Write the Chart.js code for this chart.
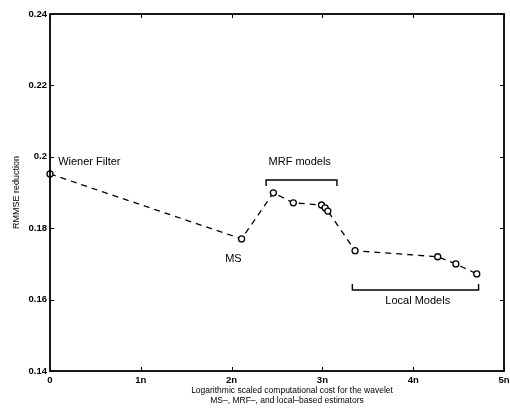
<!DOCTYPE html>
<html>
<head>
<meta charset="utf-8">
<script src="https://cdn.jsdelivr.net/npm/chart.js@4/dist/chart.umd.min.js"></script>
<style>
  body { margin: 0; background: #fff; }
  #wrap { width: 510px; height: 411px; }
</style>
</head>
<body>
<div id="wrap"><canvas id="chart" width="510" height="411"></canvas></div>
<script>
// computational cost (in units of n) and RMMSE reduction for each estimator
const costs = [0, 2.11, 2.46, 2.68, 2.99, 3.03, 3.06, 3.36, 4.27, 4.47, 4.70];
const rmmse = [0.1952, 0.1770, 0.1899, 0.1871, 0.1865, 0.1857, 0.1848, 0.1737, 0.1720, 0.1700, 0.1672];
const xTicks = [0, 1, 2, 3, 4, 5];
const yTicks = [0.14, 0.16, 0.18, 0.2, 0.22, 0.24];

// text annotations placed in data coordinates
const notes = [
    { text: 'Wiener Filter', x: 0.09, y: 0.1985, align: 'left' },
    { text: 'MS', x: 2.02, y: 0.1714, align: 'center' },
    { text: 'MRF models', x: 2.75, y: 0.1985, align: 'center' },
    { text: 'Local Models', x: 4.05, y: 0.1595, align: 'center' }
];
// brackets: from x0 to x1 at height y, ends pointing down (dir 1) or up (dir -1)
const brackets = [
    { x0: 2.38, x1: 3.16, y: 0.1935, dir: 1 },
    { x0: 3.33, x1: 4.72, y: 0.1627, dir: -1 }
];

const font = 'Liberation Sans, Arial, sans-serif';

const decorPlugin = {
    id: 'decor',
    afterDraw(chart) {
        const ctx = chart.ctx;
        const xs = chart.scales.x, ys = chart.scales.y;
        const a = chart.chartArea;
        ctx.save();
        ctx.strokeStyle = '#000';
        ctx.fillStyle = '#000';

        // box
        ctx.lineWidth = 1.8;
        ctx.strokeRect(a.left, a.top, a.right - a.left, a.bottom - a.top);

        // inward ticks
        ctx.lineWidth = 1;
        ctx.beginPath();
        xTicks.forEach(v => {
            const px = Math.round(xs.getPixelForValue(v)) + 0.5;
            ctx.moveTo(px, a.bottom); ctx.lineTo(px, a.bottom - 4);
            ctx.moveTo(px, a.top); ctx.lineTo(px, a.top + 4);
        });
        yTicks.forEach(v => {
            const py = Math.round(ys.getPixelForValue(v)) + 0.5;
            ctx.moveTo(a.left, py); ctx.lineTo(a.left + 4, py);
            ctx.moveTo(a.right, py); ctx.lineTo(a.right - 4, py);
        });
        ctx.stroke();

        // brackets
        ctx.lineWidth = 1.4;
        brackets.forEach(b => {
            const x0 = xs.getPixelForValue(b.x0), x1 = xs.getPixelForValue(b.x1);
            const py = ys.getPixelForValue(b.y);
            ctx.beginPath();
            ctx.moveTo(x0, py + 6 * b.dir);
            ctx.lineTo(x0, py);
            ctx.lineTo(x1, py);
            ctx.lineTo(x1, py + 6 * b.dir);
            ctx.stroke();
        });

        // annotations
        ctx.font = '11px ' + font;
        ctx.textBaseline = 'middle';
        notes.forEach(n => {
            ctx.textAlign = n.align;
            ctx.fillText(n.text, xs.getPixelForValue(n.x), ys.getPixelForValue(n.y));
        });

        // x axis title (two lines)
        ctx.font = '8.5px ' + font;
        ctx.textAlign = 'center';
        ctx.fillText('Logarithmic scaled computational cost for the wavelet', 292, 391);
        ctx.fillText('MS\u2013, MRF\u2013, and local\u2013based estimators', 287, 401);
        ctx.restore();
    }
};

const ctx = document.getElementById('chart').getContext('2d');
const lineChart = new Chart(ctx, {
    type: 'line',
    data: {
        datasets: [{
            data: costs.map((c, i) => ({ x: c, y: rmmse[i] })),
            borderColor: '#000',
            borderWidth: 1.3,
            borderDash: [6, 5],
            pointRadius: 3,
            pointBorderWidth: 1.3,
            pointBorderColor: '#000',
            pointBackgroundColor: '#fff',
            fill: false,
            tension: 0,
            clip: false
        }]
    },
    options: {
        responsive: false,
        animation: false,
        layout: { padding: { top: 14, right: 1, left: 0, bottom: 0 } },
        plugins: {
            legend: { display: false },
            tooltip: { enabled: false }
        },
        scales: {
            x: {
                type: 'linear',
                min: 0,
                max: 5,
                afterFit: s => { s.height = 40; s.paddingRight = 6; },
                afterBuildTicks: s => { s.ticks = xTicks.map(v => ({ value: v })); },
                grid: { display: false, drawTicks: false },
                border: { display: false },
                ticks: {
                    color: '#000',
                    padding: 4,
                    font: { family: font, size: 9.5, weight: 'bold' },
                    callback: v => v === 0 ? '0' : v + 'n'
                }
            },
            y: {
                min: 0.14,
                max: 0.24,
                afterFit: s => { s.width = 50; },
                afterBuildTicks: s => { s.ticks = yTicks.map(v => ({ value: v })); },
                grid: { display: false, drawTicks: false },
                border: { display: false },
                title: {
                    display: true,
                    text: 'RMMSE reduction',
                    color: '#000',
                    padding: { top: 11, bottom: 0 },
                    font: { family: font, size: 9 }
                },
                ticks: {
                    color: '#000',
                    padding: 3,
                    font: { family: font, size: 9.5, weight: 'bold' },
                    callback: v => String(Math.round(v * 100) / 100)
                }
            }
        }
    },
    plugins: [decorPlugin]
});
</script>
</body>
</html>
